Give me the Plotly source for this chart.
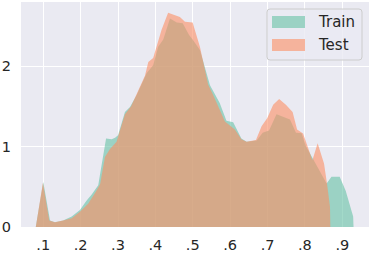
import plotly.graph_objects as go

# Train density curve (x, density)
train_x = [0.080, 0.100, 0.118, 0.131, 0.153, 0.176, 0.198, 0.216, 0.229, 0.247, 0.268, 0.283,
           0.292, 0.300, 0.3185, 0.332, 0.350, 0.3765, 0.394, 0.4075, 0.421, 0.439, 0.457, 0.473,
           0.490, 0.4995, 0.519, 0.546, 0.572, 0.590, 0.608, 0.630, 0.644, 0.671, 0.687, 0.704,
           0.724, 0.760, 0.776, 0.791, 0.802, 0.822, 0.858, 0.871, 0.893, 0.909, 0.929, 0.930]
train_y = [0.0, 0.56, 0.08, 0.06, 0.08, 0.13, 0.21, 0.33, 0.40, 0.52, 1.10, 1.09,
           1.11, 1.14, 1.43, 1.49, 1.64, 1.91, 2.01, 2.24, 2.33, 2.59, 2.54, 2.53,
           2.385, 2.33, 2.20, 1.76, 1.54, 1.32, 1.30, 1.10, 1.06, 1.075, 1.17, 1.20,
           1.40, 1.335, 1.17, 1.165, 1.01, 0.84, 0.54, 0.625, 0.625, 0.45, 0.13, 0.0]

# Test density curve (x, density)
test_x = [0.080, 0.099, 0.116, 0.131, 0.153, 0.176, 0.198, 0.220, 0.238, 0.252, 0.265, 0.278,
          0.296, 0.3185, 0.335, 0.355, 0.372, 0.381, 0.394, 0.4165, 0.434, 0.4655, 0.479, 0.4995,
          0.519, 0.541, 0.5545, 0.586, 0.6125, 0.630, 0.644, 0.669, 0.684, 0.699, 0.715, 0.731,
          0.749, 0.767, 0.779, 0.795, 0.820, 0.834, 0.851, 0.859, 0.867, 0.868]
test_y = [0.0, 0.55, 0.08, 0.06, 0.08, 0.11, 0.19, 0.29, 0.42, 0.53, 0.87, 0.965,
          1.06, 1.40, 1.50, 1.70, 1.88, 2.05, 2.10, 2.45, 2.66, 2.61, 2.55, 2.54,
          2.24, 1.77, 1.64, 1.31, 1.21, 1.09, 1.06, 1.08, 1.25, 1.35, 1.52, 1.59,
          1.52, 1.43, 1.21, 1.16, 0.83, 1.04, 0.79, 0.54, 0.25, 0.0]

x_ticks = [0.1, 0.2, 0.3, 0.4, 0.5, 0.6, 0.7, 0.8, 0.9]
x_tick_labels = [".1", ".2", ".3", ".4", ".5", ".6", ".7", ".8", ".9"]
y_ticks = [0, 1, 2]

series_names = ["Train", "Test"]
series_colors = ["rgba(102,194,165,0.6)", "rgba(252,141,98,0.6)"]

W, H = 371, 254
ML, MR, MT, MB = 21, 2, 2, 27
PW, PH = W - ML - MR, H - MT - MB


def px_x(p):
    return (p - ML) / PW


def px_y(p):
    return (H - MB - p) / PH


fig = go.Figure()
for xs, ys, name, col in [(train_x, train_y, series_names[0], series_colors[0]),
                          (test_x, test_y, series_names[1], series_colors[1])]:
    fig.add_trace(go.Scatter(x=xs, y=ys, name=name, mode="lines",
                             fill="tozeroy", fillcolor=col,
                             line=dict(width=0, color=col), showlegend=False))

# Manual legend (seaborn style)
bx0, bx1, by0, by1, r = 267, 362, 9, 60, 3
path = (f"M{px_x(bx0 + r)},{px_y(by0)} L{px_x(bx1 - r)},{px_y(by0)} "
        f"Q{px_x(bx1)},{px_y(by0)} {px_x(bx1)},{px_y(by0 + r)} "
        f"L{px_x(bx1)},{px_y(by1 - r)} Q{px_x(bx1)},{px_y(by1)} {px_x(bx1 - r)},{px_y(by1)} "
        f"L{px_x(bx0 + r)},{px_y(by1)} Q{px_x(bx0)},{px_y(by1)} {px_x(bx0)},{px_y(by1 - r)} "
        f"L{px_x(bx0)},{px_y(by0 + r)} Q{px_x(bx0)},{px_y(by0)} {px_x(bx0 + r)},{px_y(by0)} Z")
shapes = [dict(type="path", xref="paper", yref="paper", path=path,
               fillcolor="rgba(234,234,242,0.8)", line=dict(color="#CCCCCC", width=1))]
annotations = []
row_y = [22, 45]
for name, col, cy in zip(series_names, series_colors, row_y):
    shapes.append(dict(type="rect", xref="paper", yref="paper",
                       x0=px_x(272), x1=px_x(305), y0=px_y(cy - 6), y1=px_y(cy + 6),
                       fillcolor=col, line=dict(width=0)))
    annotations.append(dict(xref="paper", yref="paper", x=px_x(316), y=px_y(cy),
                            xanchor="left", yanchor="middle", text=name, showarrow=False,
                            font=dict(size=15, color="#262626")))

fig.update_layout(
    width=W, height=H,
    margin=dict(l=ML, r=MR, t=MT, b=MB, autoexpand=False),
    paper_bgcolor="white", plot_bgcolor="#EAEAF2",
    font=dict(family="DejaVu Sans", size=14.5, color="#262626"),
    showlegend=False,
    shapes=shapes, annotations=annotations,
)
fig.update_xaxes(range=[0.0404, 0.9714], tickvals=x_ticks, ticktext=x_tick_labels,
                 showgrid=True, gridcolor="white", gridwidth=1, zeroline=False,
                 showline=False, ticks="", ticklabelstandoff=7, automargin=False)
fig.update_yaxes(range=[0, 2.795], tickvals=y_ticks,
                 showgrid=True, gridcolor="white", gridwidth=1, zeroline=False,
                 showline=False, ticks="", ticklabelstandoff=9, automargin=False)

fig.write_html("out.html", config={"displayModeBar": False},
               post_script="document.body.style.margin='0';document.body.style.overflow='hidden';")
